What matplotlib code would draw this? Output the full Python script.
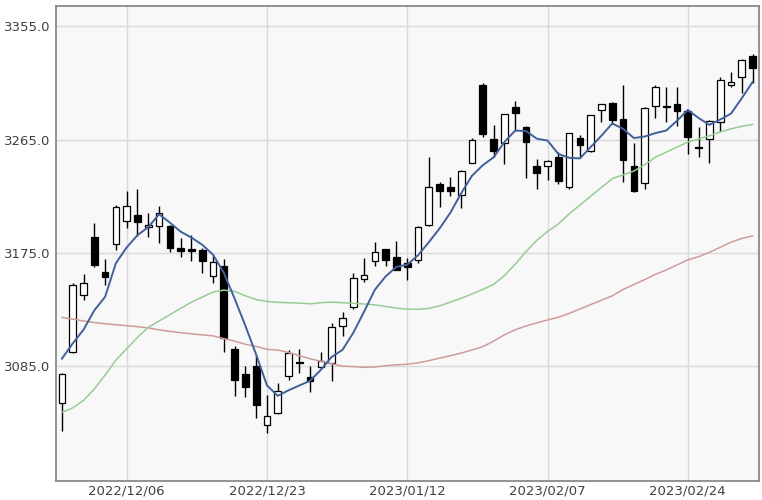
#!/usr/bin/env python3
"""
Daily candlestick chart, 2022/11/28 - 2023/03/06, with 5/25/75-day moving averages.
Values read off the reference picture.
"""

import numpy as np
import matplotlib.pyplot as plt

# ---------------------------------------------------------------------
# Data
# ---------------------------------------------------------------------

dates = [
    '2022/11/28', '2022/11/29', '2022/11/30', '2022/12/01', '2022/12/02',
    '2022/12/05', '2022/12/06', '2022/12/07', '2022/12/08', '2022/12/09',
    '2022/12/12', '2022/12/13', '2022/12/14', '2022/12/15', '2022/12/16',
    '2022/12/19', '2022/12/20', '2022/12/21', '2022/12/22', '2022/12/23',
    '2022/12/26', '2022/12/27', '2022/12/28', '2022/12/29', '2022/12/30',
    '2023/01/03', '2023/01/04', '2023/01/05', '2023/01/06', '2023/01/09',
    '2023/01/10', '2023/01/11', '2023/01/12', '2023/01/13', '2023/01/16',
    '2023/01/17', '2023/01/18', '2023/01/19', '2023/01/20', '2023/01/30',
    '2023/01/31', '2023/02/01', '2023/02/02', '2023/02/03', '2023/02/06',
    '2023/02/07', '2023/02/08', '2023/02/09', '2023/02/10', '2023/02/13',
    '2023/02/14', '2023/02/15', '2023/02/16', '2023/02/17', '2023/02/20',
    '2023/02/21', '2023/02/22', '2023/02/23', '2023/02/24', '2023/02/27',
    '2023/02/28', '2023/03/01', '2023/03/02', '2023/03/03', '2023/03/06',
]

opens = [
    3056.0, 3096.0, 3141.5, 3188.0, 3160.0, 3182.0, 3200.0, 3205.0, 3195.8, 3196.5,
    3196.0, 3178.7, 3178.2, 3177.4, 3156.7, 3164.7, 3098.5, 3078.6, 3085.5, 3038.4,
    3047.7, 3077.3, 3088.7, 3076.8, 3084.7, 3087.4, 3117.0, 3132.0, 3154.3, 3168.9,
    3178.2, 3172.0, 3166.8, 3169.4, 3197.2, 3229.6, 3227.7, 3221.0, 3246.7, 3308.4,
    3265.3, 3262.0, 3291.2, 3275.3, 3244.4, 3244.4, 3251.0, 3227.0, 3266.6, 3256.3,
    3288.6, 3294.0, 3281.2, 3244.4, 3230.4, 3291.8, 3292.0, 3293.0, 3287.3, 3258.8,
    3265.3, 3278.8, 3308.0, 3314.3, 3331.5,
]
highs = [
    3080.0, 3151.0, 3158.0, 3198.5, 3170.0, 3213.0, 3224.0, 3225.5, 3206.5, 3212.0,
    3197.0, 3186.7, 3189.0, 3179.0, 3173.4, 3170.0, 3101.0, 3085.0, 3094.0, 3062.0,
    3071.5, 3098.0, 3098.5, 3085.0, 3096.0, 3119.6, 3128.4, 3159.4, 3170.8, 3184.0,
    3178.5, 3184.5, 3171.0, 3196.0, 3251.0, 3231.0, 3235.0, 3241.0, 3266.0, 3310.0,
    3276.7, 3285.5, 3295.7, 3276.0, 3249.7, 3249.0, 3255.5, 3270.5, 3268.7, 3284.8,
    3293.5, 3295.2, 3308.4, 3262.0, 3291.0, 3308.4, 3306.6, 3306.6, 3288.0, 3275.3,
    3280.3, 3314.5, 3319.0, 3329.1, 3332.8,
]
lows = [
    3034.0, 3095.5, 3137.5, 3163.5, 3149.5, 3177.0, 3195.0, 3188.5, 3188.0, 3183.0,
    3176.0, 3172.0, 3168.5, 3159.0, 3151.4, 3096.0, 3061.5, 3061.0, 3044.0, 3031.8,
    3047.0, 3074.0, 3079.5, 3065.0, 3082.6, 3073.3, 3109.0, 3130.3, 3152.2, 3165.0,
    3165.0, 3161.5, 3153.6, 3167.3, 3196.5, 3211.3, 3220.3, 3210.5, 3246.5, 3267.0,
    3251.5, 3245.7, 3271.4, 3234.8, 3225.8, 3233.0, 3230.0, 3225.8, 3251.5, 3255.5,
    3278.8, 3277.5, 3231.0, 3223.0, 3225.8, 3282.0, 3279.3, 3276.0, 3253.6, 3251.0,
    3246.3, 3271.4, 3307.0, 3302.3, 3309.8,
]
closes = [
    3078.6, 3149.7, 3151.3, 3165.5, 3156.1, 3211.8, 3212.5, 3199.6, 3197.4, 3207.0,
    3179.0, 3176.3, 3176.5, 3168.7, 3167.9, 3107.1, 3073.8, 3068.4, 3054.4, 3045.9,
    3065.6, 3095.6, 3087.4, 3073.7, 3089.3, 3116.5, 3123.5, 3155.2, 3157.6, 3176.1,
    3169.5, 3161.8, 3163.5, 3195.3, 3227.6, 3224.4, 3224.2, 3240.3, 3264.8, 3269.3,
    3255.7, 3284.9, 3285.7, 3263.4, 3238.7, 3248.1, 3232.1, 3270.4, 3260.7, 3284.2,
    3293.3, 3280.5, 3249.0, 3224.0, 3290.3, 3306.5, 3291.2, 3287.5, 3267.2, 3258.0,
    3279.6, 3312.4, 3310.7, 3328.4, 3322.0,
]

# moving averages as drawn (blue = 5d, green = 25d, brown = 75d)
ma5 = [
    3091.1, 3103.2, 3114.1, 3129.4, 3140.2, 3166.9, 3179.4, 3189.1, 3195.5, 3205.7,
    3199.1, 3191.9, 3187.2, 3181.5, 3173.7, 3159.3, 3138.8, 3117.2, 3094.3, 3069.9,
    3061.6, 3066.0, 3069.8, 3073.6, 3082.3, 3092.5, 3098.1, 3111.6, 3128.4, 3145.8,
    3156.4, 3164.0, 3165.7, 3173.2, 3183.5, 3194.5, 3207.0, 3222.4, 3236.3, 3244.6,
    3250.9, 3263.0, 3272.1, 3271.8, 3265.7, 3264.2, 3253.6, 3250.5, 3250.0, 3259.1,
    3268.1, 3277.8, 3273.5, 3266.2, 3267.4, 3270.1, 3272.2, 3279.9, 3288.5, 3282.1,
    3276.7, 3280.9, 3285.6, 3297.8, 3310.6,
]
ma25 = [
    3048.5, 3052.0, 3058.0, 3067.0, 3078.0, 3090.0, 3099.0, 3108.0, 3116.0, 3121.0,
    3126.0, 3131.0, 3136.0, 3140.0, 3144.0, 3145.5, 3144.5, 3141.0, 3138.0, 3136.5,
    3135.8, 3135.5, 3135.2, 3134.6, 3135.5, 3136.0, 3135.5, 3135.0, 3134.5, 3133.8,
    3132.5, 3131.2, 3130.4, 3130.3, 3131.0, 3133.0, 3136.0, 3139.0, 3142.5, 3146.0,
    3150.0, 3157.0, 3166.0, 3176.0, 3185.0, 3192.0, 3198.0, 3206.0, 3213.0, 3220.0,
    3227.0, 3234.0, 3237.0, 3240.0, 3245.0, 3251.0, 3255.0, 3259.0, 3263.0, 3265.5,
    3268.0, 3271.0, 3273.5, 3275.5, 3277.0,
]
ma75 = [
    3123.8, 3122.5, 3121.0, 3119.8, 3118.8, 3118.0, 3117.3, 3116.5, 3115.5, 3114.0,
    3112.8, 3111.7, 3110.8, 3110.0, 3109.2, 3107.0, 3105.0, 3102.5, 3100.8, 3098.5,
    3098.0, 3096.0, 3093.5, 3091.0, 3089.0, 3087.0, 3085.2, 3084.8, 3084.2, 3084.5,
    3085.5, 3086.2, 3086.7, 3087.8, 3089.5, 3091.5, 3093.5, 3095.5, 3098.0, 3100.6,
    3105.0, 3110.0, 3114.0, 3117.0, 3119.5, 3121.8, 3124.0, 3127.0, 3130.5, 3134.0,
    3137.5, 3141.0, 3146.0, 3150.0, 3153.8, 3158.0, 3161.5, 3165.5, 3169.5, 3172.0,
    3175.5, 3179.5, 3183.5, 3186.5, 3188.5,
]

tick_dates = ['2022/12/06', '2022/12/23', '2023/01/12', '2023/02/07', '2023/02/24']
y_ticks = [3085.0, 3175.0, 3265.0, 3355.0]

# ---------------------------------------------------------------------
# Plot
# ---------------------------------------------------------------------

x = np.arange(len(dates))
o = np.array(opens)
c = np.array(closes)
up = c >= o

fig = plt.figure(figsize=(7.62, 5.0), dpi=100)
ax = fig.add_axes([0.0735, 0.038, 0.9226, 0.95])
ax.set_facecolor('#f8f8f8')

# wicks
ax.vlines(x, lows, highs, color='black', linewidth=1.0, zorder=2)
# bodies
body_lo = np.minimum(o, c)
body_h = np.maximum(np.abs(c - o), 0.4)
ax.bar(x, body_h, bottom=body_lo, width=0.62,
       color=np.where(up, 'white', 'black'), edgecolor='black',
       linewidth=0.9, zorder=3)

# moving averages
ax.plot(x, ma75, color='#cf9c9c', linewidth=1.1, zorder=4)
ax.plot(x, ma25, color='#98cc94', linewidth=1.1, zorder=4)
ax.plot(x, ma5, color='#40609a', linewidth=1.4, zorder=5)

ax.set_xlim(-0.55, 64.6)
ax.set_ylim(2994, 3371)

ax.set_xticks([dates.index(d) for d in tick_dates])
ax.set_xticklabels(tick_dates)
ax.set_yticks(y_ticks)
ax.set_yticklabels([f'{v:.1f}' for v in y_ticks])
ax.tick_params(length=0, labelsize=9.5, labelcolor='#404040')
ax.tick_params(axis='y', pad=4)
ax.tick_params(axis='x', pad=2.5)

ax.grid(True, color='#d9d9d9', linewidth=1.0, zorder=0)
ax.set_axisbelow(True)
for s in ax.spines.values():
    s.set_color('#8a8a8a')
    s.set_linewidth(1.3)

fig.savefig('out.png', dpi=100)
